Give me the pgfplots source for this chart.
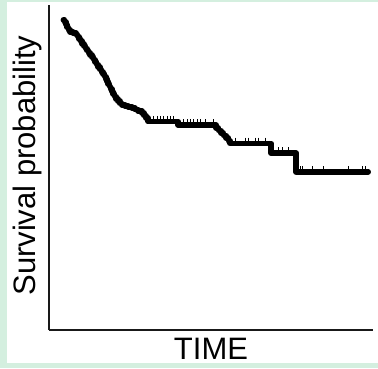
\documentclass[border=0pt]{standalone}
\usepackage{pgfplots}
\pgfplotsset{compat=1.18}
\usepackage{fontspec}
\setmainfont{Liberation Sans}
\definecolor{bggreen}{HTML}{D4EFDF}
\begin{document}
\begin{tikzpicture}
\useasboundingbox (0,0) rectangle (378pt,368pt);
\fill[bggreen] (0,0) rectangle (378pt,368pt);
\fill[white] (7pt,5pt) rectangle (378pt,366.5pt);
\begin{axis}[
  at={(49pt,38pt)}, anchor=south west,
  scale only axis, width=324pt, height=325pt,
  xmin=0, xmax=81, ymin=0, ymax=1.048,
  axis lines*=left,
  axis line style={line width=1.1pt, black!90},
  xtick=\empty, ytick=\empty,
  clip=false,
  font=\fontsize{31}{36}\selectfont,
  xlabel={TIME},
  ylabel={Survival probability},
  xlabel style={at={(axis description cs:0.5,0)}, anchor=north, inner sep=0pt, yshift=-8pt, black},
  ylabel style={at={(axis description cs:-0.0432,0.506)}, anchor=base, inner sep=0pt, black},
]
\addplot[const plot, line width=5.6pt, black, line join=round, line cap=round] coordinates {
(3.6,1.000) (3.9,0.993) (4.2,0.985) (4.5,0.976) (4.9,0.968) (5.3,0.961)
(6.0,0.958) (6.7,0.953) (7.1,0.946) (7.5,0.939) (7.9,0.931) (8.3,0.923)
(8.7,0.916) (9.1,0.908) (9.5,0.901) (9.9,0.894) (10.3,0.887) (10.7,0.880)
(11.1,0.872) (11.5,0.864) (11.9,0.856) (12.3,0.848) (12.7,0.840) (13.1,0.832)
(13.5,0.825) (13.9,0.817) (14.2,0.809) (14.5,0.801) (14.8,0.793) (15.1,0.785)
(15.4,0.777) (15.7,0.769) (16.0,0.761) (16.4,0.753) (16.8,0.745) (17.2,0.738)
(17.7,0.731) (18.2,0.726) (19.0,0.723) (19.8,0.720) (20.7,0.716) (21.5,0.711)
(22.3,0.706) (23.2,0.700) (23.7,0.692) (24.2,0.684) (24.8,0.672)
(32.3,0.661) (41.8,0.651) (42.4,0.643) (43.0,0.635) (43.6,0.627) (44.3,0.619)
(44.9,0.610) (45.3,0.602) (55.5,0.570) (61.8,0.510) (79.8,0.510)
};
\addplot[only marks, mark=|, mark size=3pt, mark options={line width=0.8pt, yshift=2.8pt}, black] coordinates {
(26.0,0.672) (27.0,0.672) (27.75,0.672) (28.5,0.672) (29.5,0.672) (30.25,0.672) (31.0,0.672)
(33.5,0.661) (34.5,0.661) (35.25,0.661) (36.0,0.661) (37.0,0.661) (37.75,0.661) (39.0,0.661) (41.0,0.661)
(46.5,0.602) (49.0,0.602) (49.75,0.602) (51.5,0.602) (52.25,0.602) (54.0,0.602)
(57.25,0.570) (58.25,0.570) (59.75,0.570)
(62.75,0.510) (63.25,0.510) (65.75,0.510) (68.5,0.510) (74.75,0.510) (78.25,0.510) (79.0,0.510)
};
\end{axis}
\end{tikzpicture}
\end{document}
